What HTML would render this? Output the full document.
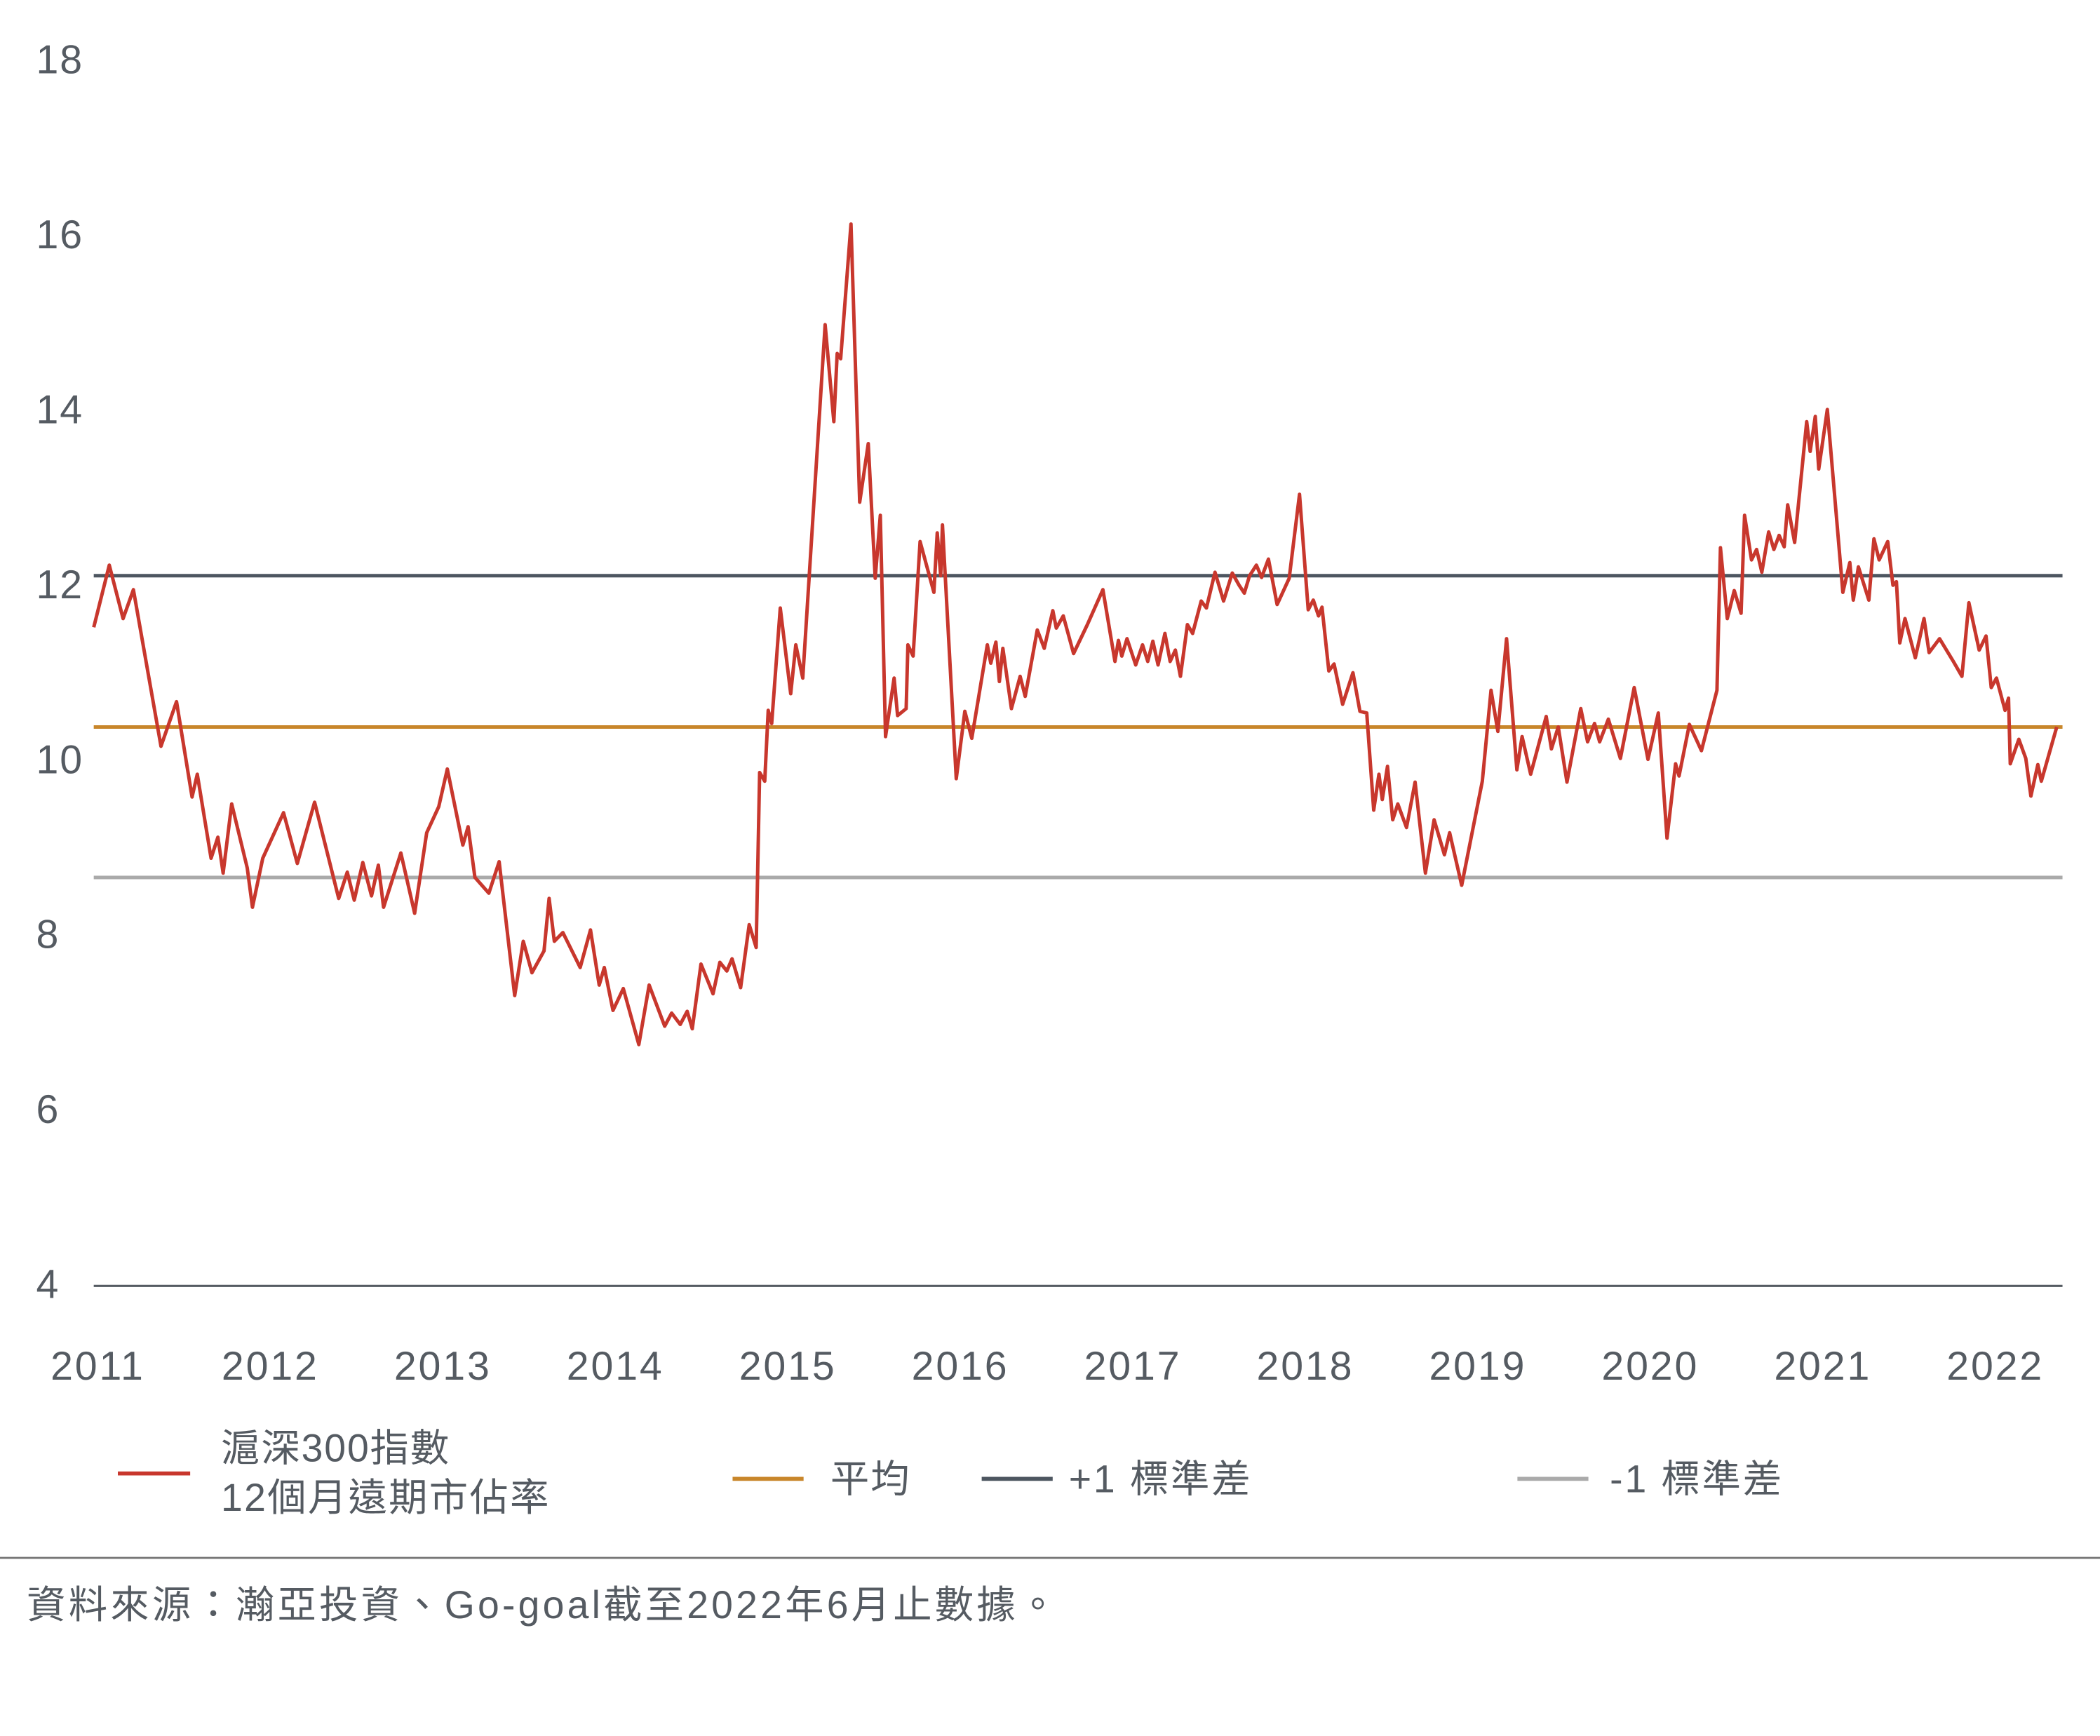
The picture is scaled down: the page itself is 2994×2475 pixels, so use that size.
<!DOCTYPE html>
<html><head><meta charset="utf-8">
<style>
html,body{margin:0;padding:0;background:#fff;}
svg{display:block;}
text{font-family:"Liberation Sans","Noto Sans CJK TC",sans-serif;fill:#555b62;}
</style></head>
<body>
<svg width="2994" height="2475" viewBox="0 0 1568 1296" preserveAspectRatio="none" xmlns="http://www.w3.org/2000/svg">
<g id="yticks"></g>
<g id="xticks"></g>
<g id="refs"></g>
<g id="series"></g>
<line x1="70" y1="960" x2="1540" y2="960" stroke="#555b62" stroke-width="1.6"/>
<g>
<line x1="88" y1="1100" x2="142" y2="1100" stroke="#c8372d" stroke-width="3"/>
<text x="165" y="1091" font-size="29" letter-spacing="1">滬深300指數</text>
<text x="165" y="1128" font-size="29" letter-spacing="1.2">12個月遠期市佔率</text>
<line x1="547" y1="1104" x2="600" y2="1104" stroke="#c8862a" stroke-width="3"/>
<text x="620" y="1114" font-size="29" letter-spacing="1">平均</text>
<line x1="733" y1="1104" x2="786" y2="1104" stroke="#4d5660" stroke-width="3"/>
<text x="798" y="1114" font-size="29" letter-spacing="1.5">+1 標準差</text>
<line x1="1133" y1="1104" x2="1186" y2="1104" stroke="#aaaaaa" stroke-width="3"/>
<text x="1202" y="1114" font-size="29" letter-spacing="1.5">-1 標準差</text>
</g>
<line x1="0" y1="1163" x2="1568" y2="1163" stroke="#777" stroke-width="1.5"/>
<text x="20" y="1208" font-size="29" letter-spacing="2.2">資料來源：瀚亞投資、Go-goal截至2022年6月止數據。</text>
</svg>
<script>
const yTickValues=[4,6,8,10,12,14,16,18];
const xTickYears=[2011,2012,2013,2014,2015,2016,2017,2018,2019,2020,2021,2022];
const refMean=10.39, refPlus=12.12, refMinus=8.67;
const dates=[2011.00,2011.09,2011.17,2011.23,2011.39,2011.48,2011.57,2011.60,2011.68,2011.72,2011.75,2011.80,2011.89,2011.92,2011.98,2012.10,2012.18,2012.28,2012.42,2012.47,2012.51,2012.56,2012.61,2012.65,2012.68,2012.78,2012.86,2012.93,2013.00,2013.05,2013.14,2013.17,2013.21,2013.29,2013.35,2013.44,2013.49,2013.54,2013.61,2013.64,2013.67,2013.72,2013.82,2013.88,2013.93,2013.96,2014.01,2014.07,2014.16,2014.22,2014.31,2014.35,2014.40,2014.44,2014.47,2014.52,2014.59,2014.63,2014.67,2014.70,2014.75,2014.80,2014.84,2014.86,2014.89,2014.91,2014.93,2014.98,2015.04,2015.07,2015.11,2015.24,2015.29,2015.31,2015.33,2015.39,2015.44,2015.49,2015.53,2015.56,2015.59,2015.64,2015.66,2015.71,2015.72,2015.75,2015.79,2015.87,2015.89,2015.91,2015.92,2016.00,2016.05,2016.09,2016.18,2016.20,2016.23,2016.25,2016.27,2016.32,2016.37,2016.40,2016.47,2016.51,2016.56,2016.58,2016.62,2016.68,2016.76,2016.85,2016.92,2016.94,2016.96,2016.99,2017.04,2017.08,2017.11,2017.14,2017.17,2017.21,2017.24,2017.27,2017.30,2017.34,2017.37,2017.42,2017.45,2017.50,2017.55,2017.60,2017.64,2017.67,2017.70,2017.74,2017.77,2017.81,2017.86,2017.93,2017.99,2018.04,2018.07,2018.10,2018.12,2018.16,2018.19,2018.24,2018.30,2018.34,2018.38,2018.42,2018.45,2018.47,2018.50,2018.53,2018.56,2018.61,2018.66,2018.72,2018.77,2018.83,2018.86,2018.93,2019.05,2019.10,2019.14,2019.19,2019.25,2019.28,2019.33,2019.42,2019.45,2019.49,2019.54,2019.62,2019.66,2019.70,2019.73,2019.78,2019.85,2019.93,2020.01,2020.07,2020.12,2020.17,2020.19,2020.25,2020.32,2020.41,2020.43,2020.47,2020.51,2020.55,2020.57,2020.61,2020.64,2020.67,2020.71,2020.74,2020.77,2020.80,2020.82,2020.86,2020.93,2020.95,2020.98,2021.00,2021.05,2021.14,2021.18,2021.20,2021.23,2021.29,2021.32,2021.35,2021.40,2021.43,2021.45,2021.47,2021.50,2021.56,2021.61,2021.64,2021.70,2021.78,2021.83,2021.87,2021.93,2021.97,2022.00,2022.03,2022.08,2022.10,2022.11,2022.16,2022.20,2022.23,2022.27,2022.29,2022.38];
const peValues=[11.53,12.24,11.63,11.96,10.17,10.68,9.59,9.85,8.89,9.13,8.72,9.51,8.78,8.33,8.89,9.41,8.83,9.53,8.43,8.73,8.41,8.84,8.46,8.81,8.33,8.95,8.26,9.18,9.48,9.91,9.04,9.25,8.67,8.49,8.85,7.32,7.94,7.58,7.83,8.43,7.94,8.04,7.64,8.07,7.44,7.64,7.15,7.40,6.76,7.44,6.97,7.12,6.99,7.14,6.94,7.68,7.34,7.70,7.60,7.74,7.41,8.13,7.87,9.87,9.77,10.58,10.43,11.75,10.77,11.33,10.95,14.99,13.88,14.66,14.60,16.14,12.96,13.63,12.09,12.81,10.28,10.95,10.52,10.60,11.33,11.20,12.51,11.93,12.61,12.12,12.70,9.80,10.57,10.26,11.33,11.12,11.36,10.91,11.29,10.60,10.97,10.74,11.50,11.29,11.72,11.52,11.66,11.23,11.56,11.96,11.14,11.38,11.20,11.40,11.10,11.33,11.14,11.37,11.10,11.46,11.14,11.27,10.97,11.56,11.46,11.83,11.75,12.16,11.83,12.15,12.01,11.92,12.12,12.24,12.10,12.31,11.79,12.09,13.05,11.73,11.84,11.66,11.76,11.03,11.11,10.65,11.01,10.57,10.55,9.44,9.85,9.56,9.94,9.33,9.51,9.24,9.76,8.72,9.33,8.93,9.18,8.58,9.77,10.81,10.34,11.40,9.90,10.28,9.85,10.51,10.14,10.39,9.76,10.60,10.22,10.43,10.22,10.48,10.03,10.84,10.02,10.55,9.12,9.97,9.83,10.42,10.12,10.81,12.44,11.63,11.95,11.69,12.81,12.30,12.42,12.16,12.62,12.42,12.58,12.45,12.93,12.50,13.88,13.54,13.94,13.34,14.02,11.93,12.27,11.84,12.22,11.84,12.54,12.30,12.51,12.01,12.05,11.35,11.63,11.18,11.63,11.24,11.40,11.14,10.97,11.81,11.27,11.43,10.84,10.95,10.58,10.72,9.97,10.25,10.03,9.60,9.96,9.77,10.39];

const NS='http://www.w3.org/2000/svg';
const X0=70,X1=1540;
function xs(t){return X0+(t-2011)*128.8;}
function ys(v){return 960-(v-4)*65.3;}
function mk(tag,attrs,parent){const e=document.createElementNS(NS,tag);for(const k in attrs)e.setAttribute(k,attrs[k]);parent.appendChild(e);return e;}

const yg=document.getElementById('yticks');
yTickValues.forEach(v=>{
  const t=mk('text',{x:27,y:ys(v)+9,'font-size':30,'letter-spacing':1},yg);
  
  
  t.textContent=v;
});
const xg=document.getElementById('xticks');
xTickYears.forEach(yr=>{
  const t=mk('text',{x:xs(yr)+3,y:1030,'font-size':30,'letter-spacing':1.5,'text-anchor':'middle'},xg);
  
  
  t.textContent=yr;
});
const rg=document.getElementById('refs');
const refs=[[refMinus,'#aaaaaa','minus-sd-line'],[refMean,'#c8862a','mean-line'],[refPlus,'#4d5660','plus-sd-line']];
refs.forEach(r=>{
  const l=mk('line',{x1:X0,x2:X1,y1:ys(r[0]),y2:ys(r[0]),stroke:r[1],'stroke-width':2.6},rg);
  
  
});
const sg=document.getElementById('series');
const d=dates.map((t,i)=>(i?'L':'M')+xs(t).toFixed(1)+' '+ys(peValues[i]).toFixed(1)).join(' ');
const p=mk('path',{d:d,fill:'none',stroke:'#c8372d','stroke-width':2.6,'stroke-linejoin':'round'},sg);


</script>
</body></html>
